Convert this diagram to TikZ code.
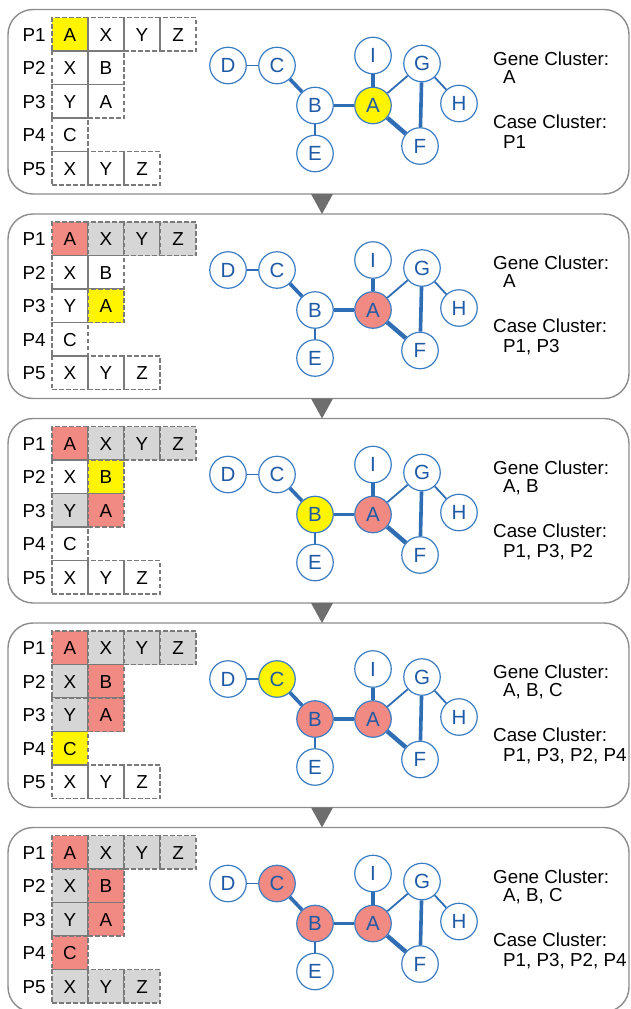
\documentclass[tikz,border=0pt]{standalone}
\usepackage{fontspec}
\setmainfont{Liberation Sans}
\definecolor{nodeblue}{HTML}{3A7CC3}
\definecolor{edgeblue}{HTML}{2F6DB5}
\definecolor{textblue}{HTML}{1F5AA6}
\definecolor{hlyellow}{HTML}{FFF500}
\definecolor{hlred}{HTML}{F28A84}
\definecolor{hlgray}{HTML}{D6D6D6}
\definecolor{dashgray}{HTML}{7A7A7A}
\definecolor{boxgray}{HTML}{8C8C8C}
\definecolor{trigray}{HTML}{6E6E6E}
\newcommand\myfs{\fontsize{18.8}{22}\selectfont}
\newcommand\mygfs{\fontsize{20.5}{22}\selectfont}
\tikzset{
  yel/.style={fill=hlyellow},
  red/.style={fill=hlred},
  gry/.style={fill=hlgray},
  r1a/.style={}, r1x/.style={}, r1y/.style={}, r1z/.style={},
  r2x/.style={}, r2b/.style={}, r3y/.style={}, r3a/.style={},
  r4c/.style={}, r5x/.style={}, r5y/.style={}, r5z/.style={},
  gA/.style={}, gB/.style={}, gC/.style={},
  panelbox/.style={draw=boxgray, line width=1.4pt, rounded corners=25pt},
  cell/.style={draw=dashgray, line width=1.5pt, dash pattern=on 4.5pt off 2.5pt,
    minimum width=36pt, minimum height=33.5pt, inner sep=0pt, font=\myfs,
    text height=13.5pt, text depth=0pt},
  plabel/.style={anchor=west, inner sep=0pt, font=\myfs, text height=13.5pt, text depth=0pt},
  rtext/.style={anchor=west, inner sep=0pt, font=\myfs, text height=13.5pt, text depth=0pt},
  gnode/.style={circle, draw=nodeblue, line width=1.2pt, fill=white, minimum size=36.5pt,
    inner sep=0pt, font=\mygfs, text=textblue},
  edge/.style={draw=edgeblue},
  thin edge/.style={edge, line width=1.3pt},
  mid edge/.style={edge, line width=1.8pt},
  thick edge/.style={edge, line width=3.6pt},
  heavy edge/.style={edge, line width=4.4pt},
}
\newcommand\panel[5]{%
\begin{scope}[shift={(0,#2)}, #3]
  \draw[panelbox] (8,0) rectangle (629,184.5);
  % table
  \node[plabel] (#1-l1) at (22.5,24.75) {P1};
  \node[plabel] (#1-l2) at (22.5,58.25) {P2};
  \node[plabel] (#1-l3) at (22.5,91.75) {P3};
  \node[plabel] (#1-l4) at (22.5,125.25) {P4};
  \node[plabel] (#1-l5) at (22.5,158.75) {P5};
  \node[cell,r1a] (#1-r1a) at (70,24.75) {A};
  \node[cell,r1x] (#1-r1x) at (106,24.75) {X};
  \node[cell,r1y] (#1-r1y) at (142,24.75) {Y};
  \node[cell,r1z] (#1-r1z) at (178,24.75) {Z};
  \node[cell,r2x] (#1-r2x) at (70,58.25) {X};
  \node[cell,r2b] (#1-r2b) at (106,58.25) {B};
  \node[cell,r3y] (#1-r3y) at (70,91.75) {Y};
  \node[cell,r3a] (#1-r3a) at (106,91.75) {A};
  \node[cell,r4c] (#1-r4c) at (70,125.25) {C};
  \node[cell,r5x] (#1-r5x) at (70,158.75) {X};
  \node[cell,r5y] (#1-r5y) at (106,158.75) {Y};
  \node[cell,r5z] (#1-r5z) at (142,158.75) {Z};
  % graph
  \node[gnode] (#1-D) at (228,56) {D};
  \node[gnode,gC] (#1-C) at (277,56) {C};
  \node[gnode,gB] (#1-B) at (315,96) {B};
  \node[gnode,gA] (#1-A) at (373,96) {A};
  \node[gnode] (#1-I) at (373,46) {I};
  \node[gnode] (#1-G) at (422,54) {G};
  \node[gnode] (#1-H) at (459,94) {H};
  \node[gnode] (#1-F) at (420,136.5) {F};
  \node[gnode] (#1-E) at (315,144) {E};
  \draw[thin edge] (#1-D) -- (#1-C);
  \draw[thick edge] (#1-C) -- (#1-B);
  \draw[thin edge] (#1-B) -- (#1-E);
  \draw[thick edge] (#1-B) -- (#1-A);
  \draw[thick edge] (#1-A) -- (#1-I);
  \draw[mid edge] (#1-A) -- (#1-G);
  \draw[heavy edge] (#1-A) -- (#1-F);
  \draw[thick edge] (#1-G) -- (#1-F);
  \draw[mid edge] (#1-G) -- (#1-H);
  % text
  \node[rtext] (#1-gh) at (493,49) {Gene Cluster:};
  \node[rtext] (#1-gv) at (503,67) {#4};
  \node[rtext] (#1-ch) at (493,112) {Case Cluster:};
  \node[rtext] (#1-cv) at (503,132) {#5};
\end{scope}}
\begin{document}
\begin{tikzpicture}[x=1pt,y=-1pt]
\useasboundingbox (0,0) rectangle (631,1009);
\panel{p1}{9.5}{r1a/.style=yel, gA/.style=yel}{A}{P1}
\panel{p2}{214}{r1a/.style=red, r1x/.style=gry, r1y/.style=gry, r1z/.style=gry,
  r3a/.style=yel, gA/.style=red}{A}{P1, P3}
\panel{p3}{418.5}{r1a/.style=red, r1x/.style=gry, r1y/.style=gry, r1z/.style=gry,
  r2b/.style=yel, r3y/.style=gry, r3a/.style=red, gA/.style=red, gB/.style=yel}{A, B}{P1, P3, P2}
\panel{p4}{623}{r1a/.style=red, r1x/.style=gry, r1y/.style=gry, r1z/.style=gry,
  r2x/.style=gry, r2b/.style=red, r3y/.style=gry, r3a/.style=red, r4c/.style=yel,
  gA/.style=red, gB/.style=red, gC/.style=yel}{A, B, C}{P1, P3, P2, P4}
\panel{p5}{827.5}{r1a/.style=red, r1x/.style=gry, r1y/.style=gry, r1z/.style=gry,
  r2x/.style=gry, r2b/.style=red, r3y/.style=gry, r3a/.style=red, r4c/.style=red,
  r5x/.style=gry, r5y/.style=gry, r5z/.style=gry,
  gA/.style=red, gB/.style=red, gC/.style=red}{A, B, C}{P1, P3, P2, P4}
\foreach \k in {0,1,2,3} {
  \fill[trigray] (311,194+204.5*\k) -- (333,194+204.5*\k) -- (322,214+204.5*\k) -- cycle;
}
\end{tikzpicture}
\end{document}
